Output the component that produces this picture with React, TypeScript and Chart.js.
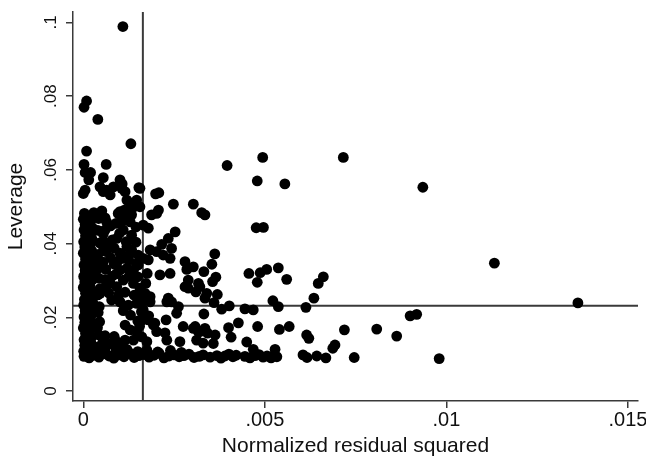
import React, { useEffect, useRef } from "react";
import { Chart, registerables } from "chart.js";

Chart.register(...registerables);

// ---- data ----
const xTickValues = [0, 0.005, 0.01, 0.015];
const xTickLabels = ["0", ".005", ".01", ".015"];
const yTickValues = [0, 0.02, 0.04, 0.06, 0.08, 0.1];
const yTickLabels = ["0", ".02", ".04", ".06", ".08", ".1"];
const xTitle = "Normalized residual squared";
const yTitle = "Leverage";
const meanResidualSquared = 0.00164; // vertical reference line
const meanLeverage = 0.02315; // horizontal reference line

// [normalized residual squared, leverage]
const outliers: [number, number][] = [
  [0.00109, 0.0989], [0.00009, 0.0787], [0.00002, 0.077], [0.0004, 0.0737], [0.00131, 0.0671],
  [0.00009, 0.0651], [0.00002, 0.0615], [0.00063, 0.0615], [0.00005, 0.0593], [0.0002, 0.0593],
  [0.00015, 0.0573], [0.00055, 0.0579], [0.00101, 0.0573], [0.00107, 0.0562], [0.00153, 0.0552],
  [0.00199, 0.0535], [0.00208, 0.0538], [0.00396, 0.0612], [0.00494, 0.0634], [0.00716, 0.0634],
  [0.00479, 0.057], [0.00555, 0.0562], [0.00935, 0.0553], [0.01132, 0.0347], [0.01362, 0.0239],
];

const upperLeft: [number, number][] = [
  [0.00005, 0.0545], [0.0, 0.0536], [0.00046, 0.0554], [0.00055, 0.0541], [0.00064, 0.0545],
  [0.00083, 0.0554], [0.00074, 0.0532], [0.00106, 0.055], [0.00115, 0.0541], [0.0012, 0.0518],
  [0.00133, 0.0509], [0.00147, 0.0518], [0.00156, 0.055], [0.00096, 0.0482], [0.00106, 0.0473],
  [0.00115, 0.0464], [0.00029, 0.0484], [0.00051, 0.0489], [0.00018, 0.0464], [0.00064, 0.0459],
  [0.0006, 0.0437], [0.00101, 0.0487], [0.00113, 0.0491], [0.00129, 0.0496], [0.0014, 0.05],
  [0.00156, 0.05], [0.00133, 0.0478], [0.00101, 0.0456], [0.00129, 0.0459], [0.0011, 0.0437],
  [0.00133, 0.0423], [0.00165, 0.045], [0.00179, 0.0442], [0.00188, 0.0478], [0.00207, 0.0491],
  [0.00151, 0.0369], [0.00165, 0.036], [0.00092, 0.0414], [0.0012, 0.0392], [0.00133, 0.0383],
  [0.00101, 0.0374], [0.0011, 0.036], [0.00055, 0.0392], [0.00064, 0.0378],
  [0.0009, 0.0455], [0.00145, 0.0445], [0.00085, 0.0388], [0.00095, 0.0352],
];

const middleBand: [number, number][] = [
  [0.00248, 0.0507], [0.00303, 0.0507], [0.00202, 0.0482], [0.00253, 0.0432], [0.00234, 0.0414],
  [0.00216, 0.0398], [0.00243, 0.0387], [0.00184, 0.0383], [0.00202, 0.0378], [0.0022, 0.0369],
  [0.00239, 0.036], [0.00179, 0.0356], [0.0028, 0.0351], [0.00303, 0.0337], [0.00285, 0.033],
  [0.00211, 0.0315], [0.00239, 0.0319], [0.00289, 0.0301], [0.0028, 0.0283], [0.00289, 0.0279],
  [0.0031, 0.0269], [0.00234, 0.0252], [0.00243, 0.0242], [0.00184, 0.0256], [0.00262, 0.0229],
  [0.00257, 0.0211], [0.00179, 0.0193], [0.00197, 0.0184], [0.00228, 0.0193], [0.00275, 0.0175],
  [0.00225, 0.0158], [0.00308, 0.0175],
  [0.00101, 0.0328], [0.0012, 0.0333], [0.00138, 0.0328], [0.00151, 0.0342], [0.00176, 0.0319],
  [0.00317, 0.0292], [0.0034, 0.0265], [0.00074, 0.0292], [0.00092, 0.0283], [0.0011, 0.0301],
  [0.00138, 0.0292], [0.00156, 0.0279], [0.00046, 0.0265], [0.00078, 0.0247], [0.00101, 0.0242],
  [0.00124, 0.0233], [0.00147, 0.0238], [0.00161, 0.0242], [0.00184, 0.0242], [0.0023, 0.0242],
  [0.00193, 0.0179], [0.00202, 0.0161], [0.00303, 0.017], [0.00317, 0.0161], [0.00335, 0.017],
  [0.00115, 0.0179], [0.00129, 0.0166], [0.00147, 0.0161],
  [0.00055, 0.0138], [0.00092, 0.0134], [0.00115, 0.0138], [0.00138, 0.0138], [0.00161, 0.0147],
  [0.00175, 0.0134], [0.0023, 0.0138], [0.00266, 0.0134], [0.00312, 0.0138],
  [0.00118, 0.0405], [0.00128, 0.0372], [0.00146, 0.0345], [0.00091, 0.0318], [0.00126, 0.0311],
  [0.00152, 0.0262], [0.00172, 0.0292], [0.00098, 0.0262],
];

const rightSide: [number, number][] = [
  [0.00326, 0.0484], [0.00335, 0.0478], [0.00476, 0.0443], [0.00496, 0.0444], [0.00362, 0.0372],
  [0.00354, 0.0344], [0.00332, 0.0324], [0.00365, 0.0309], [0.00456, 0.0319], [0.00487, 0.0321],
  [0.00505, 0.033], [0.00537, 0.0334], [0.00661, 0.031], [0.0056, 0.0303], [0.00356, 0.0297],
  [0.00479, 0.0295], [0.00647, 0.0292], [0.00321, 0.0283], [0.00335, 0.0252], [0.00369, 0.0262],
  [0.0036, 0.024], [0.00381, 0.0222], [0.00402, 0.0231], [0.00445, 0.0223], [0.00468, 0.022],
  [0.00522, 0.0245], [0.00537, 0.0229], [0.00613, 0.0227], [0.00635, 0.0252], [0.00332, 0.0209],
  [0.00427, 0.0185], [0.004, 0.0172], [0.0048, 0.0175], [0.0054, 0.0167], [0.00567, 0.0175],
  [0.00321, 0.0161], [0.00342, 0.0157], [0.00363, 0.0152], [0.00407, 0.0146], [0.00615, 0.0152],
  [0.00621, 0.0143], [0.0033, 0.013], [0.00358, 0.0129], [0.0045, 0.0133], [0.00687, 0.0116],
  [0.00693, 0.0125], [0.00528, 0.0113], [0.00468, 0.0113], [0.00719, 0.0166], [0.00808, 0.0168],
  [0.00863, 0.0149], [0.009, 0.0204], [0.00918, 0.0208], [0.00746, 0.0091], [0.0098, 0.0088],
];

const floorRow: [number, number][] = [
  [0.00002, 0.0094], [0.00016, 0.009], [0.00029, 0.0097], [0.00043, 0.0092], [0.00057, 0.0101],
  [0.00071, 0.0095], [0.00084, 0.0089], [0.00098, 0.0098], [0.00112, 0.0093], [0.00126, 0.0104],
  [0.0014, 0.0091], [0.00153, 0.0096], [0.00167, 0.0099], [0.00181, 0.0092], [0.00195, 0.0097],
  [0.00209, 0.0102], [0.00222, 0.009], [0.00236, 0.0095], [0.0025, 0.0098], [0.00264, 0.0093],
  [0.00277, 0.0096], [0.00291, 0.01], [0.00305, 0.0091], [0.00319, 0.0094], [0.0033, 0.0098],
  [0.00349, 0.0092], [0.00368, 0.0096], [0.00379, 0.0089], [0.0039, 0.0095], [0.00401, 0.01],
  [0.00412, 0.0093], [0.00421, 0.0097], [0.00445, 0.0094], [0.00459, 0.009], [0.00473, 0.0096],
  [0.00484, 0.0099], [0.00495, 0.0092], [0.00506, 0.0095], [0.00517, 0.009], [0.00525, 0.0097],
  [0.00533, 0.0093], [0.00605, 0.0098], [0.00616, 0.0091], [0.00643, 0.0095], [0.00668, 0.009],
  [0.0001, 0.0112], [0.00035, 0.0108], [0.0006, 0.0115], [0.0009, 0.0109], [0.0012, 0.0113],
  [0.0015, 0.0107], [0.00175, 0.0111], [0.00205, 0.0106], [0.0024, 0.011], [0.0027, 0.0105],
  [0.00045, 0.0122], [0.00105, 0.012], [0.0002, 0.0125],
];

const leftColumn: [number, number][] = [
  [0.00003, 0.0482], [0.0, 0.0466], [0.00005, 0.0452], [0.00002, 0.0437], [0.00006, 0.0421],
  [0.00001, 0.0405], [0.00004, 0.0391], [0.0, 0.0374], [0.00006, 0.0358], [0.00002, 0.0342],
  [0.00005, 0.0327], [0.00001, 0.0311], [0.00004, 0.0296], [0.0, 0.0281], [0.00006, 0.0265],
  [0.00003, 0.0248], [0.00001, 0.0233], [0.00005, 0.0218], [0.00002, 0.0201], [0.00004, 0.0186],
  [0.0, 0.0171], [0.00006, 0.0156], [0.00002, 0.0139], [0.00004, 0.0124], [0.00001, 0.0108],
  [0.00022, 0.0475], [0.00019, 0.0458], [0.00025, 0.0443], [0.00021, 0.0428], [0.00024, 0.0412],
  [0.00018, 0.0396], [0.00023, 0.0381], [0.0002, 0.0365], [0.00026, 0.0349], [0.00019, 0.0333],
  [0.00022, 0.0318], [0.00025, 0.0302], [0.00018, 0.0287], [0.00023, 0.0272], [0.00021, 0.0256],
  [0.00026, 0.024], [0.00019, 0.0225], [0.00024, 0.0209], [0.0002, 0.0194], [0.00025, 0.0178],
  [0.00018, 0.0163], [0.00023, 0.0147], [0.00021, 0.0131], [0.00026, 0.0116],
  [0.00042, 0.0468], [0.0004, 0.0436], [0.00045, 0.0402], [0.00041, 0.0371], [0.00044, 0.0352],
  [0.00039, 0.0331], [0.00043, 0.0306], [0.00046, 0.0278], [0.0004, 0.0261], [0.00044, 0.0229],
  [0.00041, 0.0213], [0.00045, 0.0188], [0.00039, 0.0172], [0.00043, 0.0152],
  [0.0006, 0.047], [0.00075, 0.0448], [0.00055, 0.0426], [0.0008, 0.041], [0.00065, 0.0402],
  [0.00075, 0.0362], [0.00055, 0.035], [0.00085, 0.0344], [0.00062, 0.033], [0.0008, 0.0312],
  [0.0006, 0.0302], [0.00058, 0.028], [0.0007, 0.0266], [0.0006, 0.015], [0.00075, 0.0128],
  [0.00085, 0.0148], [0.001, 0.0428], [0.00145, 0.0404], [0.00125, 0.0356], [0.0015, 0.031],
  [0.00115, 0.0268], [0.0014, 0.026], [0.0016, 0.0215], [0.0013, 0.0206], [0.0011, 0.0218],
  [0.0015, 0.019], [0.00155, 0.0176], [0.00165, 0.022], [0.0018, 0.0204], [0.00162, 0.0192],
  [0.0017, 0.0265],
];

const observations = [...outliers, ...upperLeft, ...middleBand, ...rightSide, ...floorRow, ...leftColumn];

// ---- axis ranges ----
const X_MIN = -0.000284;
const X_MAX = 0.015275;
const Y_MIN = -0.00271;
const Y_MAX = 0.10285;

const FONT = "'Liberation Sans', Arial, Helvetica, sans-serif";
const INK = "#111111";
const LINE = "#3a3a3a";

export default function App() {
  const ref = useRef<HTMLCanvasElement | null>(null);

  useEffect(() => {
    document.body.style.margin = "0";
    const canvas = ref.current;
    if (!canvas) return;
    const chart = new Chart(canvas, {
      type: "scatter",
      data: {
        datasets: [
          {
            label: "observations",
            data: observations.map(([x, y]) => ({ x, y })),
            backgroundColor: "#000000",
            borderColor: "#000000",
            borderWidth: 0,
            pointRadius: 5.4,
            pointHoverRadius: 5.4,
            order: 0,
          },
          {
            type: "line",
            label: "mean residual",
            data: [
              { x: meanResidualSquared, y: Y_MIN },
              { x: meanResidualSquared, y: Y_MAX },
            ],
            borderColor: LINE,
            borderWidth: 2,
            pointRadius: 0,
            fill: false,
            tension: 0,
            order: 1,
          } as any,
          {
            type: "line",
            label: "mean leverage",
            data: [
              { x: X_MIN, y: meanLeverage },
              { x: X_MAX, y: meanLeverage },
            ],
            borderColor: LINE,
            borderWidth: 2,
            pointRadius: 0,
            fill: false,
            tension: 0,
            order: 1,
          } as any,
        ],
      },
      options: {
        responsive: false,
        animation: false,
        devicePixelRatio: 1,
        layout: { padding: { top: 12, right: 8, left: 0, bottom: 0 } },
        plugins: { legend: { display: false }, tooltip: { enabled: false } },
        scales: {
          x: {
            type: "linear",
            min: X_MIN,
            max: X_MAX,
            afterBuildTicks: (scale: any) => {
              scale.ticks = xTickValues.map((v) => ({ value: v }));
            },
            afterFit: (scale: any) => {
              scale.height = 58;
              scale.paddingLeft = 0;
              scale.paddingRight = 0;
            },
            ticks: {
              autoSkip: false,
              maxRotation: 0,
              minRotation: 0,
              padding: 0,
              color: INK,
              font: { family: FONT, size: 20 },
              callback: (value: any) => {
                const i = xTickValues.findIndex((v) => Math.abs(v - Number(value)) < 1e-9);
                return i >= 0 ? xTickLabels[i] : "";
              },
            },
            grid: {
              display: true,
              drawOnChartArea: false,
              drawTicks: true,
              tickLength: 7,
              color: LINE,
              lineWidth: 1.5,
            },
            border: { display: true, color: LINE, width: 1.5 },
            title: {
              display: true,
              text: xTitle,
              color: INK,
              font: { family: FONT, size: 21 },
              padding: { top: 0, bottom: 0 },
            },
          },
          y: {
            type: "linear",
            min: Y_MIN,
            max: Y_MAX,
            afterBuildTicks: (scale: any) => {
              scale.ticks = yTickValues.map((v) => ({ value: v }));
            },
            afterFit: (scale: any) => {
              scale.width = 73;
              scale.paddingTop = 0;
              scale.paddingBottom = 0;
            },
            ticks: {
              autoSkip: false,
              minRotation: 90,
              maxRotation: 90,
              crossAlign: "center",
              padding: 3,
              color: INK,
              font: { family: FONT, size: 17 },
              callback: (value: any) => {
                const i = yTickValues.findIndex((v) => Math.abs(v - Number(value)) < 1e-9);
                return i >= 0 ? yTickLabels[i] : "";
              },
            },
            grid: {
              display: true,
              drawOnChartArea: false,
              drawTicks: true,
              tickLength: 7,
              color: LINE,
              lineWidth: 1.5,
            },
            border: { display: true, color: LINE, width: 1.5 },
            title: {
              display: true,
              text: yTitle,
              color: INK,
              font: { family: FONT, size: 21 },
              padding: { top: 4, bottom: 0 },
            },
          },
        },
      },
    });
    return () => chart.destroy();
  }, []);

  return (
    <div style={{ width: 646, height: 459, background: "#ffffff" }}>
      <canvas ref={ref} width={646} height={459} style={{ display: "block", width: 646, height: 459 }} />
    </div>
  );
}
